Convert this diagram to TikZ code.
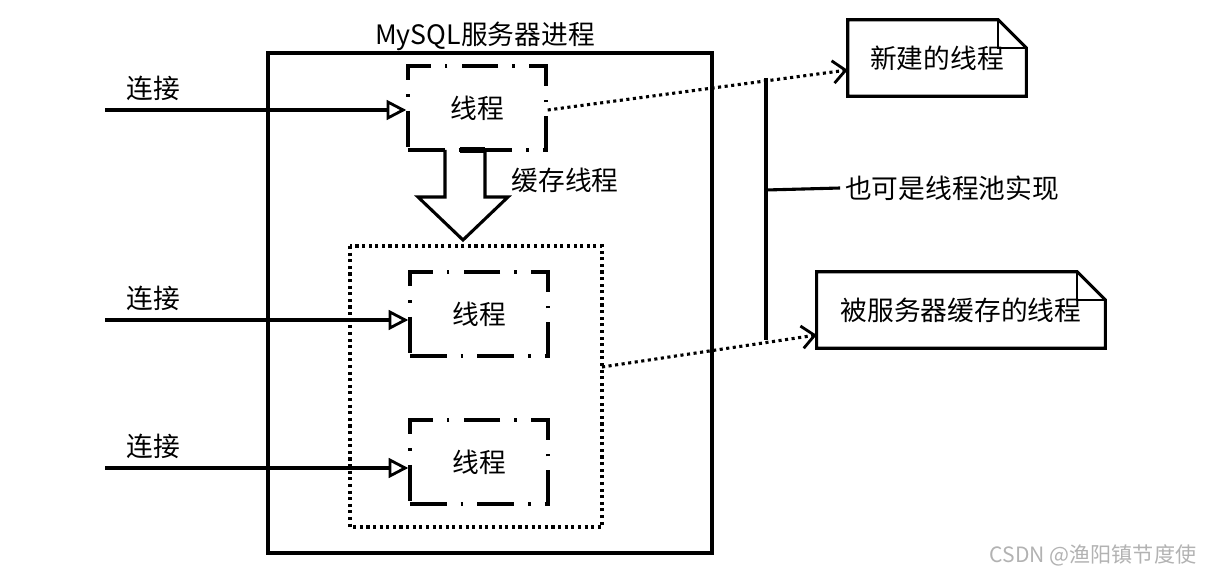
\documentclass[tikz,border=0pt]{standalone}
\usepackage{fontspec}
\setmainfont{Noto Sans CJK SC}
\usetikzlibrary{arrows.meta,positioning}
\tikzset{
  thread/.style={minimum width=3.45cm, minimum height=2.1cm, line width=2.4pt,
    draw, dash pattern=on 26pt off 10pt on 2pt off 10pt},
  note/.style={minimum height=1.9cm, inner xsep=12pt},
  conn/.style={line width=2.4pt, -{Triangle[open, length=14pt, width=14pt, line width=2pt]}},
  dots/.style={line width=2.2pt, dash pattern=on 2.2pt off 2.5pt, -{Straight Barb[length=9pt, width=16pt, line width=2pt]}},
}
\begin{document}
\begin{tikzpicture}[x=0.025cm, y=-0.025cm, font=\fontsize{19}{22}\selectfont]
\useasboundingbox (0,0) rectangle (1212,577);
% server process
\draw[line width=2.2pt] (268,53) rectangle (712,553);
\node (title) at (485,36) {MySQL服务器进程};
% threads
\node[thread] (t1) at (477,108) {线程};
\node[thread] (t2) at (479,314) {线程};
\node[thread] (t3) at (479,462) {线程};
\draw[line width=2.2pt, dash pattern=on 2.2pt off 2.5pt] (350,246) rectangle (602,527);
\coordinate (pool) at (602,367);
% connections
\foreach \n/\y in {1/110, 2/320, 3/468} {
  \coordinate (c\n) at (105,\y);
  \node (l\n) at (153,\y-22) {连接};
}
\draw[conn] (c1) -- (t1.west |- c1);
\draw[conn] (c2) -- (t2.west |- c2);
\draw[conn] (c3) -- (t3.west |- c3);
% cache arrow
\draw[line width=2.2pt] (445,150) -- (445,197) -- (418,197) -- (463,240)
  -- (508,197) -- (485,197) -- (485,150);
\draw[line width=4pt] (460,150) -- (485,150);
\node (cache) at (565,180) {缓存线程};
% notes
\node[note, minimum width=4.45cm] (n1) at (937,58) {新建的线程\hspace{10pt}};
\node[note, minimum width=7.2cm] (n2) at (961,310) {被服务器缓存的线程\hspace{10pt}};
\foreach \n in {n1, n2} {
  \draw[line width=2.2pt] (\n.south west) -- (\n.north west) -- ([xshift=-20pt]\n.north east)
    -- ([yshift=-20pt]\n.north east) -- (\n.south east) -- cycle;
  \draw[line width=1.2pt] ([xshift=-20pt]\n.north east) |- ([yshift=-20pt]\n.north east);
}
\draw[dots] (t1.east) ++(0,2) -- (n1.west |- 0,70);
\draw[dots] (pool) -- (n2.west |- 0,335);
% pool remark
\coordinate (top) at (766,78);
\coordinate (bot) at (766,340);
\coordinate (mid) at (766,190);
\node (pool remark) at (952,188) {也可是线程池实现};
\draw[line width=2.2pt] (top) -- (bot);
\draw[line width=2.2pt] (mid) -- (pool remark.west);
\node[text=gray!60, font=\fontsize{15}{17}\selectfont] (mark) at (1093,555) {CSDN @渔阳镇节度使};
\end{tikzpicture}
\end{document}
